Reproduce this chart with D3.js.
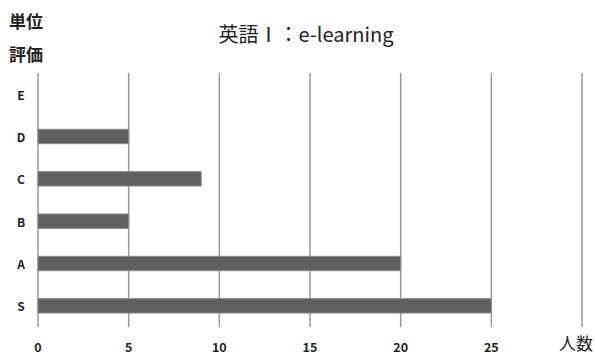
<!DOCTYPE html>
<html>
<head>
<meta charset="utf-8">
<script src="https://cdn.jsdelivr.net/npm/d3@7/dist/d3.min.js"></script>
<style>
  html, body { margin: 0; padding: 0; background: #fff; }
  svg { display: block; }
  text { font-family: "Noto Sans CJK JP", "Noto Sans", sans-serif; fill: #222; }
</style>
</head>
<body>
<svg id="chart" width="595" height="354"></svg>
<script>
// Grades (top to bottom) and head count per grade
const grades = ["E", "D", "C", "B", "A", "S"];
const counts = [0, 5, 9, 5, 20, 25];
const tickValues = [0, 5, 10, 15, 20, 25, 30];
const tickLabels = ["0", "5", "10", "15", "20", "25", ""];
const titleText = "英語Ⅰ：e-learning";
const yTitle = ["単位", "評価"];
const xTitle = "人数";

(function draw() {
  const svg = d3.select("#chart");
  const plotLeft = 38, plotRight = 582, plotTop = 73, plotBottom = 327;

  const x = d3.scaleLinear().domain([0, 30]).range([plotLeft, plotRight]);
  const y = d3.scaleBand().domain(grades).range([plotTop, plotBottom])
    .paddingInner(0.66).paddingOuter(0.33);

  // vertical grid lines
  svg.append("g").selectAll("line").data(tickValues).join("line")
    .attr("x1", d => x(d)).attr("x2", d => x(d))
    .attr("y1", plotTop).attr("y2", plotBottom)
    .attr("stroke", "#9a9a9a").attr("stroke-width", 1.5);

  // bars
  svg.append("g").selectAll("rect").data(grades).join("rect")
    .attr("x", x(0))
    .attr("y", d => y(d))
    .attr("width", (d, i) => x(counts[i]) - x(0))
    .attr("height", y.bandwidth())
    .attr("fill", "#606060")
    .attr("stroke", "#8a8a8a")
    .attr("stroke-width", 1);

  // category labels
  svg.append("g").selectAll("text").data(grades).join("text")
    .attr("x", 21)
    .attr("y", d => y(d) + y.bandwidth() / 2)
    .attr("text-anchor", "middle")
    .attr("dominant-baseline", "central")
    .attr("font-size", 12)
    .attr("font-weight", "bold")
    .text(d => d);

  // x tick labels
  svg.append("g").selectAll("text").data(tickValues).join("text")
    .attr("x", d => x(d))
    .attr("y", 346)
    .attr("text-anchor", "middle")
    .attr("dominant-baseline", "central")
    .attr("font-size", 12.5)
    .attr("font-weight", "bold")
    .text((d, i) => tickLabels[i]);

  // axis titles
  svg.append("text").attr("x", 593).attr("y", 342)
    .attr("text-anchor", "end").attr("dominant-baseline", "central")
    .attr("font-size", 17).text(xTitle);

  svg.append("g").selectAll("text").data(yTitle).join("text")
    .attr("x", 9)
    .attr("y", (d, i) => 20 + i * 33)
    .attr("dominant-baseline", "central")
    .attr("font-size", 17)
    .attr("font-weight", "bold")
    .text(d => d);

  // chart title
  svg.append("text").attr("x", 306).attr("y", 33)
    .attr("text-anchor", "middle").attr("dominant-baseline", "central")
    .attr("font-size", 20).attr("font-weight", 400).text(titleText);
})();
</script>
</body>
</html>
